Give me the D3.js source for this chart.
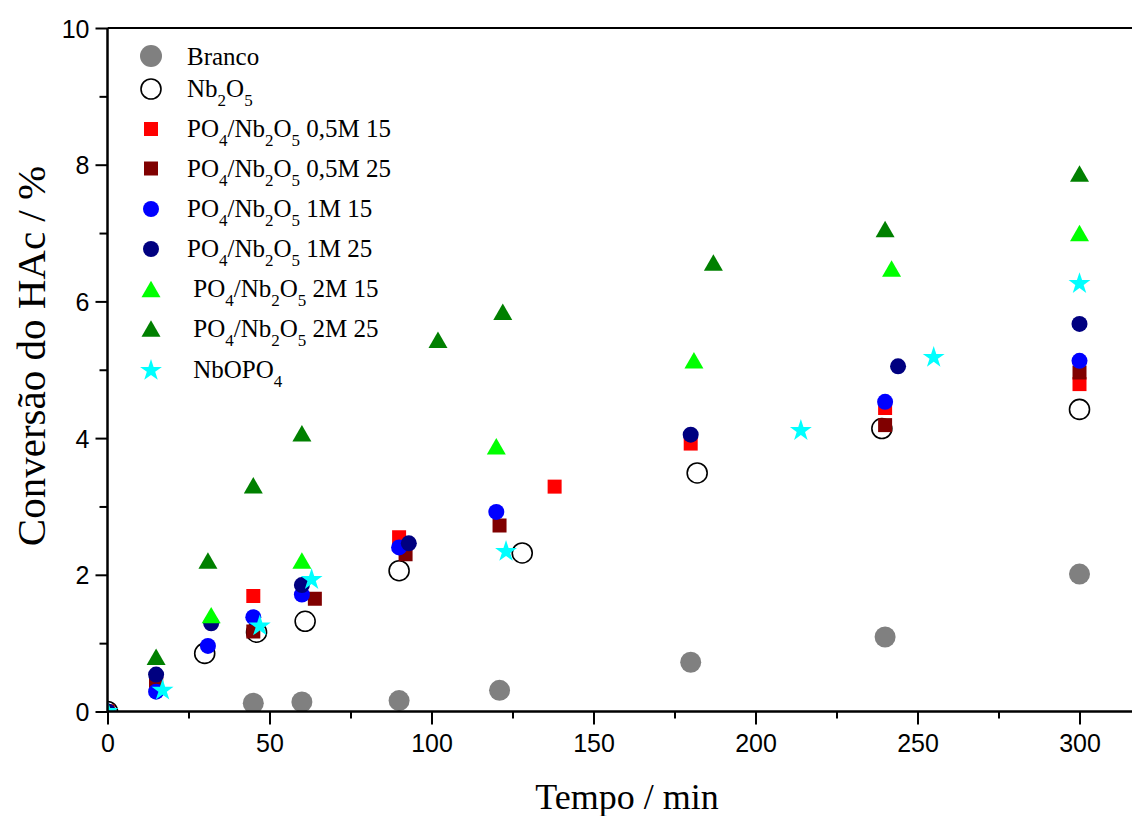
<!DOCTYPE html>
<html><head><meta charset="utf-8">
<script src="https://cdn.jsdelivr.net/npm/d3@7"></script>
<style>
html,body{margin:0;padding:0;background:#fff;}
text{white-space:pre;}
</style></head>
<body>
<svg id="chart" width="1132" height="816"></svg>
<script>
// ---- data ----
const seriesNames = ["Branco","Nb2O5","PO4/Nb2O5 0,5M 15","PO4/Nb2O5 0,5M 25","PO4/Nb2O5 1M 15","PO4/Nb2O5 1M 25","PO4/Nb2O5 2M 15","PO4/Nb2O5 2M 25","NbOPO4"];
const legendLabels = ["Branco","Nb_2O_5","PO_4/Nb_2O_5 0,5M 15","PO_4/Nb_2O_5 0,5M 25","PO_4/Nb_2O_5 1M 15","PO_4/Nb_2O_5 1M 25"," PO_4/Nb_2O_5 2M 15"," PO_4/Nb_2O_5 2M 25"," NbOPO_4"];

const brancoT = [45, 60, 90, 121, 180, 240, 300];
const brancoV = [0.12, 0.14, 0.16, 0.31, 0.72, 1.09, 2.01];
const nb2o5T = [0, 30, 46, 61, 90, 128, 182, 239, 300];
const nb2o5V = [0, 0.85, 1.16, 1.32, 2.06, 2.32, 3.49, 4.14, 4.42];
const p05m15T = [0, 15, 45, 90, 138, 180, 240, 300];
const p05m15V = [0, 0.46, 1.69, 2.55, 3.29, 3.92, 4.44, 4.79];
const p05m25T = [0, 15, 45, 64, 92, 121, 240, 300];
const p05m25V = [0, 0.40, 1.17, 1.65, 2.30, 2.72, 4.19, 4.96];
const p1m15T = [0, 15, 31, 45, 60, 90, 120, 240, 300];
const p1m15V = [0, 0.29, 0.96, 1.38, 1.71, 2.40, 2.92, 4.53, 5.13];
const p1m25T = [0, 15, 32, 60, 93, 180, 244, 300];
const p1m25V = [0, 0.54, 1.29, 1.85, 2.46, 4.05, 5.05, 5.67];
const p2m15T = [0, 32, 60, 120, 181, 242, 300];
const p2m15V = [0, 1.41, 2.21, 3.88, 5.14, 6.48, 7.00];
const p2m25T = [0, 15, 31, 45, 60, 102, 122, 187, 240, 300];
const p2m25V = [0, 0.80, 2.21, 3.31, 4.07, 5.44, 5.85, 6.57, 7.06, 7.87];
const nbopo4T = [0, 17, 47, 63, 123, 214, 255, 300];
const nbopo4V = [0, 0.31, 1.25, 1.93, 2.34, 4.11, 5.18, 6.26];

const xTicks = [0, 50, 100, 150, 200, 250, 300];
const xMinorTicks = [25, 75, 125, 175, 225, 275, 325];
const yTicks = [0, 2, 4, 6, 8, 10];
const yMinorTicks = [1, 3, 5, 7, 9];

// ---- styles ----
const styles = [
  {shape:"circle", r:10.5, fill:"#808080", stroke:"none"},
  {shape:"circle", r:10, fill:"none", stroke:"#000", sw:1.6},
  {shape:"square", s:14, fill:"#ff0000"},
  {shape:"square", s:14, fill:"#800000"},
  {shape:"circle", r:8, fill:"#0000ff"},
  {shape:"circle", r:8, fill:"#000080"},
  {shape:"triangle", w:19, fill:"#00ff00"},
  {shape:"triangle", w:19, fill:"#008000"},
  {shape:"star", r:11.5, fill:"#00ffff"}
];
const allT = [brancoT,nb2o5T,p05m15T,p05m25T,p1m15T,p1m25T,p2m15T,p2m25T,nbopo4T];
const allV = [brancoV,nb2o5V,p05m15V,p05m25V,p1m15V,p1m25V,p2m15V,p2m25V,nbopo4V];
const series = seriesNames.map((n,i)=>({name:n, style:styles[i], pts: allT[i].map((t,j)=>({t, v:allV[i][j]}))}));

const plotLeft = 107.5, plotTop = 28, plotBottom = 711.5;
const pxPerMin = 3.24;
const xMax = 330;
const x = d3.scaleLinear().domain([0, xMax]).range([plotLeft, plotLeft + xMax*pxPerMin]);
const y = d3.scaleLinear().domain([0, 10]).range([plotBottom, plotTop]);

const svg = d3.select("#chart");

function symbolPath(st){
  if(st.shape==="circle") return d3.symbol(d3.symbolCircle, Math.PI*st.r*st.r)();
  if(st.shape==="square") return d3.symbol(d3.symbolSquare, st.s*st.s)();
  if(st.shape==="triangle"){ const yy = st.w/(2*Math.sqrt(3)); return d3.symbol(d3.symbolTriangle, yy*yy*3*Math.sqrt(3))(); }
  if(st.shape==="star") return d3.symbol(d3.symbolStar, st.r*st.r/0.8908)();
}
function symbolShift(st){
  if(st.shape==="triangle"){ const yy = st.w/(2*Math.sqrt(3)); return yy/2; }
  return 0;
}

svg.append("defs").append("clipPath").attr("id","plotclip")
  .append("rect").attr("x", plotLeft).attr("y", plotTop).attr("width", 2000).attr("height", plotBottom-plotTop);

// markers
const plot = svg.append("g").attr("clip-path","url(#plotclip)");
series.forEach(s=>{
  const p = symbolPath(s.style), sh = symbolShift(s.style);
  plot.append("g").selectAll("path").data(s.pts).join("path")
    .attr("d", p)
    .attr("transform", d=>`translate(${x(d.t)},${y(d.v)+sh})`)
    .attr("fill", s.style.fill)
    .attr("stroke", s.style.stroke||"none")
    .attr("stroke-width", s.style.sw||0);
});

// axes
const axisFont = "'Liberation Sans', Arial, sans-serif";
const xAxis = svg.append("g").attr("transform",`translate(0,${plotBottom})`)
  .call(d3.axisBottom(x).tickValues(xTicks).tickSize(13).tickPadding(10).tickFormat(d3.format("d")));
const xMinor = svg.append("g").attr("transform",`translate(0,${plotBottom})`)
  .call(d3.axisBottom(x).tickValues(xMinorTicks).tickSize(7).tickFormat(""));
const yAxis = svg.append("g").attr("transform",`translate(${plotLeft},0)`)
  .call(d3.axisLeft(y).tickValues(yTicks).tickSize(12).tickPadding(6).tickFormat(d3.format("d")));
const yMinor = svg.append("g").attr("transform",`translate(${plotLeft},0)`)
  .call(d3.axisLeft(y).tickValues(yMinorTicks).tickSize(8).tickFormat(""));
[xAxis,xMinor,yAxis,yMinor].forEach(g=>{
  g.selectAll(".domain").remove();
  g.selectAll("line").attr("stroke","#000").attr("stroke-width",2);
  g.selectAll("text").attr("font-family",axisFont).attr("font-size",25).attr("fill","#000");
});
yAxis.selectAll("text").attr("dy","0.36em");
// frame lines
svg.append("line").attr("x1",plotLeft).attr("x2",1132).attr("y1",plotBottom).attr("y2",plotBottom).attr("stroke","#000").attr("stroke-width",2.5);
svg.append("line").attr("x1",plotLeft).attr("x2",plotLeft).attr("y1",plotTop).attr("y2",plotBottom).attr("stroke","#000").attr("stroke-width",2.5);
svg.append("line").attr("x1",plotLeft).attr("x2",1132).attr("y1",plotTop).attr("y2",plotTop).attr("stroke","#000").attr("stroke-width",2);

// axis titles
const serif = "'Liberation Serif','Times New Roman',serif";
svg.append("text").attr("x",627).attr("y",809).attr("text-anchor","middle")
  .attr("font-family",serif).attr("font-size",36).text("Tempo / min");
svg.append("text").attr("transform","translate(45,356) rotate(-90)").attr("text-anchor","middle")
  .attr("font-family",serif).attr("font-size",41).text("Conversão do HAc / %");

// legend
const legendY = [56, 89, 129, 168.5, 209, 249, 289, 328.5, 370.5];
const legendBase = [64.5, 97, 137, 176.5, 217, 257, 297, 337, 378];
const leg = svg.append("g");
series.forEach((s,i)=>{
  const st = Object.assign({}, s.style);
  if(i===0) st.r = 11;
  leg.append("path").attr("d", symbolPath(st))
    .attr("transform",`translate(151,${legendY[i]+symbolShift(st)})`)
    .attr("fill", st.fill).attr("stroke", st.stroke||"none").attr("stroke-width", st.sw||0);
  const t = leg.append("text").attr("x",187).attr("y",legendBase[i])
    .attr("font-family",serif).attr("font-size",25).attr("fill","#000");
  const parts = legendLabels[i].split(/(_\d)/).filter(p=>p);
  let shift = 0;
  parts.forEach(p=>{
    if(p.startsWith("_")){
      t.append("tspan").attr("font-size",17).attr("dy",9-shift).text(p.slice(1));
      shift = 9;
    } else {
      t.append("tspan").attr("dy",-shift).text(p);
      shift = 0;
    }
  });
});
</script>
</body></html>
